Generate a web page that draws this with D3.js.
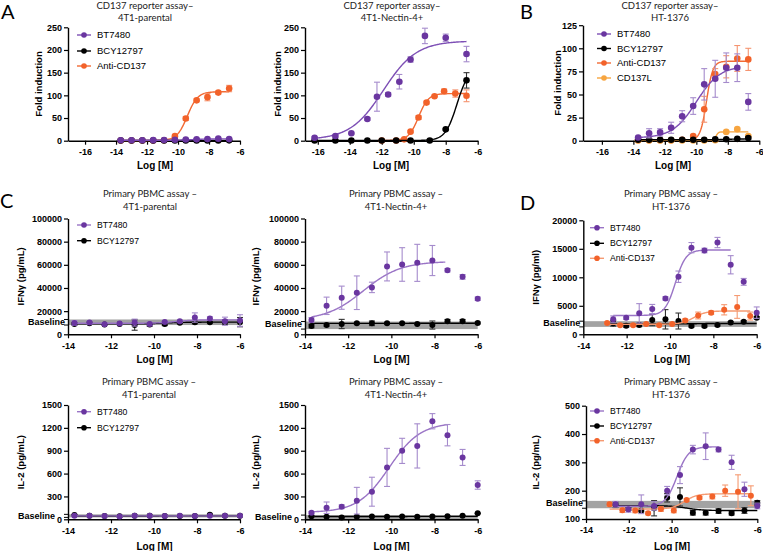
<!DOCTYPE html>
<html><head><meta charset="utf-8">
<script src="https://cdn.jsdelivr.net/npm/d3@7"></script>
<style>body{margin:0;background:#fff}svg{display:block}</style>
</head><body>
<svg id="chart" width="763" height="551"></svg>
<script>
// ================= DATA =================
const xTicksA = [-16,-14,-12,-10,-8,-6];
const xTicksC = [-14,-12,-10,-8,-6];
const yTicksA = [0,50,100,150,200,250];
const yTicksB = [0,25,50,75,100,125];
const yTicksIfn = [0,20000,40000,60000,80000,100000];
const yTicksIfnD = [0,5000,10000,15000,20000];
const yTicksIl2 = [0,300,600,900,1200,1500];
const yTicksIl2D = [100,200,300,400,500];

// fit arrays: [bottom, top, logEC50, hill]
// --- A1: CD137 reporter assay – 4T1-parental
const a1X = [-13.7,-13.0,-12.3,-11.6,-10.9,-10.2,-9.5,-8.8,-8.1,-7.4,-6.7];
const a1BT = [1,1,1,1.2,1.5,2,2.5,3,3.5,4.5,3.5];
const a1BTErr = [0.5,0.5,0.5,0.5,0.5,0.8,0.8,1,1.5,2,1.5];
const a1BCY = [0.5,0.5,0.5,0.5,0.5,0.5,0.5,0.6,0.6,0.7,0.8];
const a1BCYErr = [0.2,0.2,0.2,0.2,0.2,0.2,0.2,0.2,0.2,0.3,0.3];
const a1Anti = [0.5,0.5,0.5,0.5,1,10,49,89,96,106,115];
const a1AntiErr = [0.2,0.2,0.2,0.2,0.5,2,4,3,8,3,7];
const a1FitBT = [1,4,-9.0,1.0];
const a1FitBCY = [0.5,0.8,-8.0,1.0];
const a1FitAnti = [0.5,108,-9.4,1.3];

// --- A2: CD137 reporter assay – 4T1-Nectin-4+
const a2BTX = [-16.2,-14.9,-13.9,-12.9,-12.3,-11.6,-10.9,-10.2,-9.3,-8.0,-6.7];
const a2BT = [6.6,10.4,16.3,47.8,97,102,130,179,231,227,191];
const a2BTErr = [2,3,2,3,32,4,16,6,17,8,17];
const a2BCYX = [-16.2,-14.9,-13.9,-12.9,-12.0,-11.1,-10.2,-9.0,-8.0,-6.7];
const a2BCY = [0.5,0.5,0.5,0.5,0.5,0.5,0.5,0.5,25,133];
const a2BCYErr = [0.2,0.2,0.2,0.2,0.2,0.2,0.2,0.2,2,17];
const a2AntiX = [-12.0,-11.1,-10.6,-10.2,-9.7,-9.2,-8.7,-8.1,-7.4,-6.7];
const a2Anti = [0.5,0.5,3,20,51,84,98,109,104,99];
const a2AntiErr = [0.2,0.2,1,2,4,3,2,5,8,13];
const a2FitBT = [2,220,-11.9,0.42];
const a2FitBCY = [0.5,160,-7.3,1.2];
const a2FitAnti = [0.5,104,-9.7,1.4];

// --- B: CD137 reporter assay – HT-1376
const bX = [-13.7,-13.0,-12.3,-11.6,-10.9,-10.2,-9.5,-8.8,-8.1,-7.4,-6.7];
const bBT = [3.5,8,9,14,26.5,37.5,61,67,79,79,42];
const bBTErr = [1,5,4,6,6,9,17,20,16,15,9];
const bBCY = [1,1,1,1,1,1,1,1.5,1.5,2,3];
const bBCYErr = [0.3,0.3,0.3,0.3,0.3,0.3,0.3,0.5,0.5,0.5,1];
const bAnti = [0.5,0.5,0.5,0.5,1,5,34,72,80,89,88];
const bAntiErr = [0.2,0.2,0.2,0.2,0.5,1,14,6,12,14,12];
const bL = [0.3,0.3,0.3,0.3,0.3,0.3,0.3,0.5,9.5,12.5,5];
const bLErr = [0,0,0,0,0,0,0,0.3,1,1,1];
const bFitBT = [3,81,-10.0,0.58];
const bFitBCY = [1,2,-8,1];
const bFitAnti = [0.5,86,-9.35,2.2];
const bFitL = [0.3,9.5,-8.75,6];

// --- C1: Primary PBMC IFNγ – 4T1-parental  (x also used for C2 and IL-2 C panels)
const cX = [-13.7,-13.0,-12.3,-11.6,-10.9,-10.2,-9.5,-8.8,-8.1,-7.4,-6.7,-6.0];
const c1BT = [9800,10100,8700,9300,10100,9000,10700,11300,14500,13600,11300,11900];
const c1BTErr = [2000,1500,1000,800,3000,1500,1000,1000,4000,1500,3500,5000];
const c1BCY = [9000,9500,8500,9000,8000,8500,9000,10000,10500,10500,10500,10500];
const c1BCYErr = [1000,1000,500,500,4500,1500,1500,800,1500,800,2000,4000];
const c1FitBT = [9500,12500,-9.0,1.0];
const c1FitBCY = [9000,10500,-9.5,1.0];
const c1Baseline = [8000,12800,11000];

// --- C2: Primary PBMC IFNγ – 4T1-Nectin-4+
const c2BT = [12400,24600,31600,35900,40500,58600,60300,61700,63700,55300,49600,30700];
const c2BTErr = [2000,7500,10000,14500,4500,12500,14500,16000,13000,1500,2000,1500];
const c2BCY = [7100,8000,8900,9500,9500,9500,9500,8900,8000,11300,11300,9800];
const c2BCYErr = [1500,1000,4000,800,2000,800,500,500,3500,1500,1500,800];
const c2FitBT = [12000,63000,-11.3,0.5];
const c2FitBCY = [9400,9600,-9,1];
const c2Baseline = [4500,11000,9300];

// --- D: Primary PBMC IFNγ – HT-1376
const dX = [-12.62,-12.02,-11.42,-10.82,-10.21,-9.61,-9.01,-8.41,-7.81,-7.2,-6.6,-6.0];
const dAntiX = [-12.9,-12.3,-11.7,-11.1,-10.5,-9.9,-9.3,-8.7,-8.1,-7.5,-6.9,-6.3];
const dBT = [2630,2900,3680,4440,6300,10100,15200,14700,16100,12200,9200,3800];
const dBTErr = [600,300,1700,800,300,1000,900,400,900,1600,600,1000];
const dBCY = [1930,1520,1640,2510,2630,2330,1460,1460,1640,2050,2220,2900];
const dBCYErr = [500,300,300,1000,1700,1400,200,200,200,200,200,200];
const dAnti = [2000,1600,1600,1800,1600,1800,2400,3300,3800,4300,4800,3200];
const dAntiErr = [200,200,200,200,200,200,300,600,300,900,2000,700];
const dFitBT = [3300,14800,-9.75,1.8];
const dFitBCY = [1800,1900,-9,1];
const dFitAnti = [1750,4100,-8.9,1.5];
const dBaseline = [1300,2300,1950];

// --- E1: Primary PBMC IL-2 – 4T1-parental
const e1BT = [48,45,43,38,47,46,44,46,43,45,46,45];
const e1BTErr = [5,5,5,5,5,5,5,5,5,5,5,5];
const e1BCY = [55,45,43,40,45,45,42,44,42,60,45,45];
const e1BCYErr = [5,5,5,5,5,5,5,5,5,8,5,5];
const e1FitBT = [45,45,-9,1];
const e1FitBCY = [44,46,-9,1];
const e1Baseline = [25,65,40];

// --- E2: Primary PBMC IL-2 – 4T1-Nectin-4+
const e2BT = [87,152,165,244,362,681,898,963,1287,1104,812,450];
const e2BTErr = [15,75,25,175,190,250,165,290,100,140,105,55];
const e2BCY = [40,35,25,35,38,35,38,35,38,40,45,78];
const e2BCYErr = [5,5,5,5,5,5,5,5,5,5,5,5];
const e2FitBT = [90,1270,-10.1,0.6];
const e2FitBCY = [37,39,-9,1];
const e2Baseline = [-20,55,30];

// --- F: Primary PBMC IL-2 – HT-1376
const fBT = [152,134,152,146,200,255,345,357,345,300,205,146];
const fBTErr = [10,10,33,15,15,30,15,47,8,25,25,10];
const fBCY = [150,135,130,138,175,178,122,122,128,120,130,157];
const fBCYErr = [10,5,5,27,15,32,8,8,8,6,10,8];
const fAnti = [152,131,130,120,135,130,167,175,179,200,196,182];
const fAntiErr = [8,8,8,5,8,8,5,5,8,20,60,35];
const fFitBT = [145,355,-9.75,1.6];
const fFitBCY = [147,130,-9.3,1.2];
const fFitAnti = [135,189,-9.4,1.5];
const fBaseline = [138,164,158];

// ================= STYLE =================
const COL = {
  BT:   {pt:"#6a36a0", line:"#7d4fb5", err:"#a58bcc"},
  BCY:  {pt:"#000000", line:"#000000", err:"#333333"},
  Anti: {pt:"#f2622a", line:"#f26a34", err:"#f59470"},
  L:    {pt:"#f7a540", line:"#f7a540", err:"#f7b565"}
};
const COLLight = {
  BT:   {pt:"#6a36a0", line:"#9a74c6", err:"#a58bcc"},
  BCY:  {pt:"#000000", line:"#000000", err:"#333333"},
  Anti: {pt:"#f2622a", line:"#f59a72", err:"#f59a72"}
};
const LAB = {BT:"BT7480", BCY:"BCY12797", Anti:"Anti-CD137", L:"CD137L"};

function S(key, x, y, err, fit, pal, fitRange){ return {key, x, y, err, fit, col:(pal||COL)[key], fitRange}; }

const panels = [
 {left:68, right:240, top:27.3, bottom:140.7, xDomain:[-17.1,-6], yDomain:[0,250], xTicks:xTicksA, yTicks:yTicksA,
  title:["CD137 reporter assay–","4T1-parental"], titleX:145, titleY:[9,20.5], ylab:"Fold induction", ylabX:39, xlabX:155, xlabY:169,
  legend:{x:77, ys:[35,51,66], fs:9.5, keys:["BT","BCY","Anti"]}, r:3.3,
  series:[S("Anti",a1X,a1Anti,a1AntiErr,a1FitAnti), S("BCY",a1X,a1BCY,a1BCYErr,a1FitBCY), S("BT",a1X,a1BT,a1BTErr,a1FitBT)]},
 {left:305, right:477.7, top:27.3, bottom:140.7, xDomain:[-16.8,-6], yDomain:[0,250], xTicks:xTicksA, yTicks:yTicksA,
  title:["CD137 reporter assay–","4T1-Nectin-4+"], titleX:392, titleY:[9,20.5], ylab:"Fold induction", ylabX:278, xlabX:391, xlabY:169, r:3.3,
  series:[S("Anti",a2AntiX,a2Anti,a2AntiErr,a2FitAnti), S("BCY",a2BCYX,a2BCY,a2BCYErr,a2FitBCY), S("BT",a2BTX,a2BT,a2BTErr,a2FitBT)]},
 {left:583, right:759.3, top:25.2, bottom:140.7, xDomain:[-17.2,-6], yDomain:[0,125], xTicks:xTicksA, yTicks:yTicksB,
  title:["CD137 reporter assay–","HT-1376"], titleX:670, titleY:[9,20.5], ylab:"Fold induction", ylabX:558, xlabX:673, xlabY:169,
  legend:{x:597, ys:[34,48.5,63,78], fs:9.5, keys:["BT","BCY","Anti","L"]}, r:3.3,
  series:[S("Anti",bX,bAnti,bAntiErr,bFitAnti), S("L",bX,bL,bLErr,bFitL), S("BCY",bX,bBCY,bBCYErr,bFitBCY), S("BT",bX,bBT,bBTErr,bFitBT,null,[-13.7,-7.4])]},
 {left:68, right:240, top:218.5, bottom:334.3, xDomain:[-14,-6], yDomain:[0,100000], xTicks:xTicksC, yTicks:yTicksIfn,
  title:["Primary PBMC assay –","4T1-parental"], titleX:150, titleY:[196.5,210], ylab:"IFNγ (pg/mL)", ylabX:21, xlabX:154.5, xlabY:363,
  legend:{x:77, ys:[225,240.7], fs:8.7, keys:["BT","BCY"]}, r:3, band:c1Baseline, blGap:3,
  series:[S("BCY",cX,c1BCY,c1BCYErr,c1FitBCY,COLLight), S("BT",cX,c1BT,c1BTErr,c1FitBT,COLLight)]},
 {left:305, right:477.7, top:218.5, bottom:334.3, xDomain:[-14,-6], yDomain:[0,100000], xTicks:xTicksC, yTicks:yTicksIfn,
  title:["Primary PBMC assay –","4T1-Nectin-4+"], titleX:396, titleY:[196.5,210], ylab:"IFNγ (pg/mL)", ylabX:256, xlabX:391.5, xlabY:363, r:3, band:c2Baseline, blGap:3,
  series:[S("BCY",cX,c2BCY,c2BCYErr,c2FitBCY,COLLight), S("BT",cX,c2BT,c2BTErr,c2FitBT,COLLight,[-13.7,-7.5])]},
 {left:583.3, right:756.7, top:220.3, bottom:334.3, xDomain:[-14,-6], yDomain:[0,20000], xTicks:xTicksC, yTicks:yTicksIfnD,
  title:["Primary PBMC assay –","HT-1376"], titleX:671, titleY:[196.5,210], ylab:"IFNγ (pg/ml)", ylabX:536, xlabX:672, xlabY:363,
  legend:{x:590, ys:[227.7,243.3,258.3], fs:8.7, keys:["BT","BCY","Anti"]}, r:3, band:dBaseline, blGap:3,
  series:[S("BCY",dX,dBCY,dBCYErr,dFitBCY,COLLight), S("Anti",dAntiX,dAnti,dAntiErr,dFitAnti,COLLight), S("BT",dX,dBT,dBTErr,dFitBT,COLLight,[-12.62,-7.2])]},
 {left:68, right:240, top:405, bottom:519.3, xDomain:[-14,-6], yDomain:[0,1500], xTicks:xTicksC, yTicks:yTicksIl2,
  title:["Primary PBMC assay –","4T1-parental"], titleX:149, titleY:[385,397.5], ylab:"IL-2 (pg/mL)", ylabX:21, xlabX:154.5, xlabY:550,
  legend:{x:77, ys:[411.7,427.7], fs:8.7, keys:["BT","BCY"]}, r:3, band:e1Baseline, blGap:13,
  series:[S("BCY",cX,e1BCY,e1BCYErr,e1FitBCY,COLLight), S("BT",cX,e1BT,e1BTErr,e1FitBT,COLLight)]},
 {left:305, right:477.7, top:405, bottom:519.3, xDomain:[-14,-6], yDomain:[0,1500], xTicks:xTicksC, yTicks:yTicksIl2,
  title:["Primary PBMC assay –","4T1-Nectin-4+"], titleX:396, titleY:[385,397.5], ylab:"IL-2 (pg/mL)", ylabX:256, xlabX:391.5, xlabY:550, r:3, band:e2Baseline, blGap:13,
  series:[S("BCY",cX,e2BCY,e2BCYErr,e2FitBCY,COLLight), S("BT",cX,e2BT,e2BTErr,e2FitBT,COLLight,[-13.7,-7.4])]},
 {left:586, right:757.3, top:405.7, bottom:519, xDomain:[-14,-6], yDomain:[100,500], xTicks:xTicksC, yTicks:yTicksIl2D,
  title:["Primary PBMC assay –","HT-1376"], titleX:671, titleY:[385,397.5], ylab:"IL-2 (pg/mL)", ylabX:536, xlabX:672, xlabY:550,
  legend:{x:590, ys:[411,426,440.7], fs:8.7, keys:["BT","BCY","Anti"]}, r:3, band:fBaseline, blGap:3,
  series:[S("BCY",dX,fBCY,fBCYErr,fFitBCY,COLLight), S("Anti",dAntiX,fAnti,fAntiErr,fFitAnti,COLLight), S("BT",dX,fBT,fBTErr,fFitBT,COLLight,[-12.62,-7.81])]}
];

const letters = [["A",1,19],["B",520,19],["C",0,208],["D",520,210]];

// ================= DRAW =================
const svg = d3.select("#chart");
const AX_FONT = "'Liberation Sans', Arial, sans-serif";
const TITLE_FONT = "Lato, 'Open Sans', sans-serif";

function logistic(f, x){ return f[0] + (f[1]-f[0])/(1+Math.pow(10,(f[2]-x)*f[3])); }

panels.forEach(p => {
  const g = svg.append("g");
  const x = d3.scaleLinear().domain(p.xDomain).range([p.left, p.right]);
  const y = d3.scaleLinear().domain(p.yDomain).range([p.bottom, p.top]);

  if (p.band) {
    g.append("rect").attr("x", p.left).attr("width", p.right - p.left)
      .attr("y", y(p.band[1])).attr("height", y(p.band[0]) - y(p.band[1]))
      .attr("fill", "#a3a3a3");
  }

  // axes
  const xAxis = d3.axisBottom(x).tickValues(p.xTicks).tickFormat(d => String(d)).tickSize(4).tickSizeOuter(0).tickPadding(4);
  const yAxis = d3.axisLeft(y).tickValues(p.yTicks).tickFormat(d => String(d)).tickSize(4).tickSizeOuter(0).tickPadding(2);
  const gx = g.append("g").attr("transform", `translate(0,${p.bottom})`).call(xAxis);
  const gy = g.append("g").attr("transform", `translate(${p.left},0)`).call(yAxis);
  [gx, gy].forEach(a => {
    a.select(".domain").attr("stroke", "#000").attr("stroke-width", 1.4);
    a.selectAll(".tick line").attr("stroke", "#000").attr("stroke-width", 1.2);
    a.selectAll(".tick text").attr("fill", "#000").style("font-family", AX_FONT).style("font-size", "9px").style("font-weight", "bold");
  });

  if (p.band) {
    [p.band[0], p.band[1]].forEach(v => {
      if (v >= p.yDomain[0]) g.append("line").attr("x1", p.left - 4).attr("x2", p.left).attr("y1", y(v)).attr("y2", y(v)).attr("stroke", "#000").attr("stroke-width", 1);
    });
    g.append("text").attr("x", p.left - p.blGap).attr("y", y(p.band[2]) + 3.2).attr("text-anchor", "end")
      .style("font-family", AX_FONT).style("font-size", "9px").style("font-weight", "bold").text("Baseline");
  }

  // series
  p.series.forEach(s => {
    const col = s.col;
    const xr = s.fitRange || [d3.min(s.x), d3.max(s.x)];
    const pts = d3.range(0, 201).map(i => xr[0] + (xr[1] - xr[0]) * i / 200);
    g.append("path").datum(pts)
      .attr("d", d3.line().x(d => x(d)).y(d => y(logistic(s.fit, d))))
      .attr("fill", "none").attr("stroke", col.line).attr("stroke-width", 1.4);
    const data = s.x.map((xv, i) => ({x: xv, y: s.y[i], e: s.err[i]}));
    const eg = g.append("g").attr("stroke", col.err).attr("stroke-width", 1.1);
    data.forEach(d => {
      if (d.e > 0) {
        const y1 = y(d.y - d.e), y2 = y(d.y + d.e), cx = x(d.x);
        eg.append("line").attr("x1", cx).attr("x2", cx).attr("y1", y1).attr("y2", y2);
        eg.append("line").attr("x1", cx - 3).attr("x2", cx + 3).attr("y1", y1).attr("y2", y1);
        eg.append("line").attr("x1", cx - 3).attr("x2", cx + 3).attr("y1", y2).attr("y2", y2);
      }
    });
    g.append("g").selectAll("circle").data(data).join("circle")
      .attr("cx", d => x(d.x)).attr("cy", d => y(d.y)).attr("r", p.r).attr("fill", col.pt);
  });

  // titles
  p.title.forEach((t, i) => {
    g.append("text").attr("x", p.titleX).attr("y", p.titleY[i]).attr("text-anchor", "middle")
      .style("font-family", TITLE_FONT).style("font-size", "9.5px").attr("fill", "#222").text(t);
  });
  g.append("text").attr("transform", `translate(${p.ylabX},${(p.top + p.bottom) / 2}) rotate(-90)`)
    .attr("text-anchor", "middle").attr("dy", "0.35em")
    .style("font-family", AX_FONT).style("font-size", "9.5px").style("font-weight", "bold").text(p.ylab);
  g.append("text").attr("x", p.xlabX).attr("y", p.xlabY).attr("text-anchor", "middle")
    .style("font-family", AX_FONT).style("font-size", "10px").style("font-weight", "bold").text("Log [M]");

  if (p.legend) {
    const L = p.legend;
    L.keys.forEach((k, i) => {
      const col = (p.series.find(s => s.key === k) || {col: COL[k]}).col;
      const yy = L.ys[i];
      g.append("line").attr("x1", L.x).attr("x2", L.x + 14).attr("y1", yy).attr("y2", yy).attr("stroke", col.line).attr("stroke-width", 1.4);
      g.append("circle").attr("cx", L.x + 7).attr("cy", yy).attr("r", 2.8).attr("fill", col.pt);
      g.append("text").attr("x", L.x + 20).attr("y", yy + L.fs * 0.35)
        .style("font-family", AX_FONT).style("font-size", L.fs + "px").text(LAB[k]);
    });
  }
});

letters.forEach(([t, lx, ly]) => {
  svg.append("text").attr("x", lx).attr("y", ly).style("font-family", TITLE_FONT).style("font-size", "20px").text(t);
});
</script>
</body></html>
